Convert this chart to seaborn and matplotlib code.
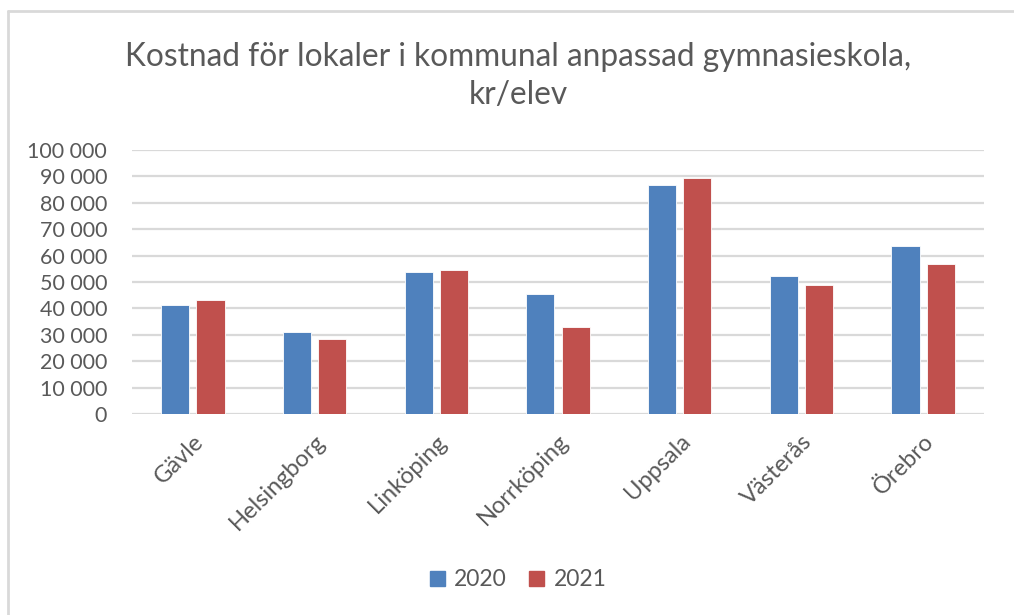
import matplotlib
matplotlib.use("Agg")
import matplotlib.pyplot as plt
import matplotlib.ticker as mticker
import pandas as pd
import seaborn as sns

# Data (kr/elev)
kommuner = ["Gävle", "Helsingborg", "Linköping", "Norrköping", "Uppsala", "Västerås", "Örebro"]
kostnad_2020 = [41300, 31000, 53600, 45400, 86700, 52100, 63500]
kostnad_2021 = [43300, 28400, 54600, 32900, 89300, 49000, 56700]
years = ["2020", "2021"]
colors = ["#4F81BD", "#C0504D"]

df = pd.DataFrame({"Kommun": kommuner, "2020": kostnad_2020, "2021": kostnad_2021})
df_long = df.melt(id_vars="Kommun", value_vars=years, var_name="År", value_name="Kostnad")

sns.set_theme(style="white")
plt.rcParams["font.family"] = ["Lato", "DejaVu Sans"]
text_color = "#595959"

fig = plt.figure(figsize=(10.14, 6.15), dpi=100)
ax = fig.add_axes([132 / 1014, 1 - 414 / 615, (984 - 132) / 1014, (414 - 150) / 615])

sns.barplot(data=df_long, x="Kommun", y="Kostnad", hue="År", order=kommuner,
            hue_order=years, palette=colors, width=0.58, gap=0.2,
            edgecolor="white", linewidth=0.6, saturation=1, ax=ax)

ax.set_ylim(0, 100000)
ax.set_xlim(-0.5, len(kommuner) - 0.5)
ax.yaxis.set_major_locator(mticker.MultipleLocator(10000))
ax.yaxis.set_major_formatter(mticker.FuncFormatter(lambda v, p: f"{int(v):,}".replace(",", " ")))
ax.grid(axis="y", color="#D9D9D9", linewidth=1.6)
ax.set_axisbelow(True)
for s in ax.spines.values():
    s.set_visible(False)
ax.set_xlabel("")
ax.set_ylabel("")
ax.tick_params(axis="y", labelsize=15.5, labelcolor=text_color, length=0, pad=18)
ax.tick_params(axis="x", labelsize=17, labelcolor=text_color, length=0, pad=12)
for lbl in ax.get_xticklabels():
    lbl.set_rotation(45)
    lbl.set_ha("right")
    lbl.set_rotation_mode("anchor")

ax.legend_.remove()
handles = [plt.Rectangle((0, 0), 1, 1, color=c) for c in colors]
fig.legend(handles, years, loc="center", bbox_to_anchor=(518 / 1014, 1 - 580 / 615),
           ncol=2, frameon=False, fontsize=16.5, labelcolor=text_color,
           handlelength=0.65, handleheight=0.65, handletextpad=0.4, columnspacing=1.0)

fig.text(518 / 1014, 1 - 76 / 615, "Kostnad för lokaler i kommunal anpassad gymnasieskola,\nkr/elev",
         ha="center", va="center", fontsize=22.8, color=text_color, linespacing=1.3)

# chart frame (left and top edges visible in the reference)
fig.add_artist(plt.Line2D([7.5 / 1014, 7.5 / 1014], [0, 1 - 11 / 615], color="#D9D9D9", linewidth=2))
fig.add_artist(plt.Line2D([7.5 / 1014, 1], [1 - 11 / 615, 1 - 11 / 615], color="#D9D9D9", linewidth=2))

fig.savefig("out.png", dpi=100)
